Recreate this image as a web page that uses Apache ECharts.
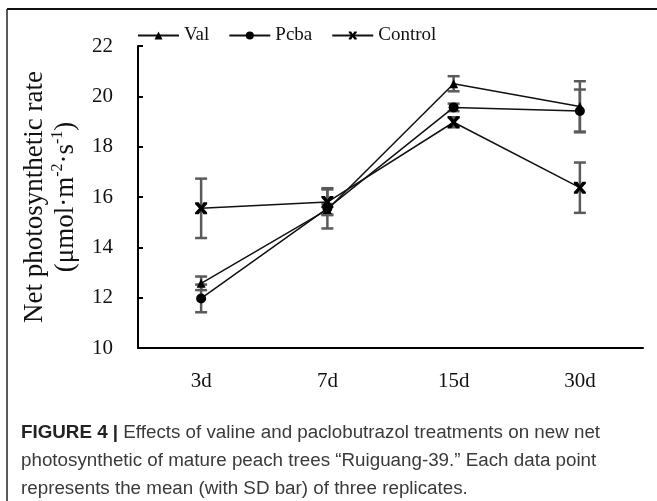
<!DOCTYPE html>
<html>
<head>
<meta charset="utf-8">
<script src="https://cdn.jsdelivr.net/npm/echarts@6/dist/echarts.min.js"></script>
<style>
html,body{margin:0;padding:0;background:#fff;}
#c{width:657px;height:501px;}
</style>
</head>
<body>
<div id="c"></div>
<script>
var categories = ['3d', '7d', '15d', '30d'];
var valMean = [12.57, 15.5, 20.5, 19.6];
var valSD = [0.27, 0.22, 0.3, 1.0];
var pcbaMean = [11.97, 15.55, 19.56, 19.42];
var pcbaSD = [0.55, 0.8, 0.15, 0.85];
var controlMean = [15.55, 15.8, 18.97, 16.37];
var controlSD = [1.18, 0.5, 0.2, 1.0];
var yTicks = [10, 12, 14, 16, 18, 20, 22];

var xMarker = 'path://M0,0L3,0L5,3L7,0L10,0L10,1.5L6.8,5L10,8.5L10,10L7,10L5,7L3,10L0,10L0,8.5L3.2,5L0,1.5Z';
var serif = '"Liberation Serif","Times New Roman",serif';

function errSeries(name, means, sds) {
  var d = means.map(function (m, i) { return [i, m - sds[i], m + sds[i]]; });
  return {
    type: 'custom',
    name: name + '_err',
    data: d,
    z: 1,
    silent: true,
    renderItem: function (params, api) {
      var x = api.value(0);
      var lo = api.coord([x, api.value(1)]);
      var hi = api.coord([x, api.value(2)]);
      var hw = 6;
      var st = { stroke: '#5a5a5a', lineWidth: 2.5 };
      return {
        type: 'group',
        children: [
          { type: 'line', shape: { x1: lo[0], y1: lo[1], x2: hi[0], y2: hi[1] }, style: st },
          { type: 'line', shape: { x1: lo[0] - hw, y1: lo[1], x2: lo[0] + hw, y2: lo[1] }, style: st },
          { type: 'line', shape: { x1: hi[0] - hw, y1: hi[1], x2: hi[0] + hw, y2: hi[1] }, style: st }
        ]
      };
    }
  };
}

function lineSeries(name, means, symbol, size) {
  return {
    type: 'line',
    name: name,
    data: means,
    symbol: symbol,
    symbolSize: size,
    z: 3,
    lineStyle: { color: '#111', width: 1.5 },
    itemStyle: { color: '#000', borderWidth: 0 },
    emphasis: { disabled: true }
  };
}

var chart = echarts.init(document.getElementById('c'), null, { renderer: 'canvas' });
chart.setOption({
  animation: false,
  backgroundColor: '#fff',
  legend: {
    left: 137, top: 26, padding: 0,
    itemWidth: 41, itemHeight: 10, itemGap: 19,
    textStyle: { fontFamily: serif, fontSize: 19, color: '#111' },
    data: ['Val', 'Pcba', 'Control']
  },
  grid: { left: 138, right: 14, top: 46, bottom: 153, containLabel: false },
  xAxis: {
    type: 'category',
    data: categories,
    boundaryGap: true,
    axisLine: { lineStyle: { color: '#000', width: 2 } },
    axisTick: { inside: true, length: 5, lineStyle: { color: '#000', width: 2 } },
    axisLabel: { margin: 23, fontFamily: serif, fontSize: 21, color: '#111' }
  },
  yAxis: {
    type: 'value',
    min: yTicks[0], max: yTicks[yTicks.length - 1], interval: 2,
    splitLine: { show: false },
    axisLine: { show: true, lineStyle: { color: '#000', width: 2 } },
    axisTick: { show: true, inside: true, length: 5, lineStyle: { color: '#000', width: 2 } },
    axisLabel: { margin: 25, fontFamily: serif, fontSize: 21, color: '#111' },
    name: 'Net photosynthetic rate\n(μmol·m{sup|-2}·s{sup|-1})',
    nameLocation: 'middle',
    nameGap: 56,
    nameTextStyle: {
      fontFamily: serif, fontSize: 27, color: '#111', lineHeight: 31,
      rich: { sup: { fontFamily: serif, fontSize: 16, color: '#111', verticalAlign: 'top', lineHeight: 22 } }
    }
  },
  series: [
    errSeries('Val', valMean, valSD),
    errSeries('Pcba', pcbaMean, pcbaSD),
    errSeries('Control', controlMean, controlSD),
    lineSeries('Val', valMean, 'triangle', 9),
    lineSeries('Pcba', pcbaMean, 'circle', 10),
    lineSeries('Control', controlMean, xMarker, 12)
  ],
  graphic: [
    { type: 'line', shape: { x1: 7, y1: 9, x2: 657, y2: 9 }, style: { stroke: '#111', lineWidth: 2 } },
    { type: 'line', shape: { x1: 7, y1: 9, x2: 7, y2: 501 }, style: { stroke: '#222', lineWidth: 1.5 } },
    {
      type: 'text', left: 21, top: 419,
      style: {
        text: '{b|FIGURE 4 |} Effects of valine and paclobutrazol treatments on new net\nphotosynthetic of mature peach trees “Ruiguang-39.” Each data point\nrepresents the mean (with SD bar) of three replicates.',
        fontFamily: '"Liberation Sans",Arial,sans-serif',
        fontSize: 18.8, lineHeight: 28, fill: '#3a3a3a',
        rich: { b: { fontFamily: '"Liberation Sans",Arial,sans-serif', fontWeight: 'bold', fontSize: 18.8, fill: '#222', lineHeight: 28 } }
      }
    }
  ]
});
</script>
</body>
</html>
